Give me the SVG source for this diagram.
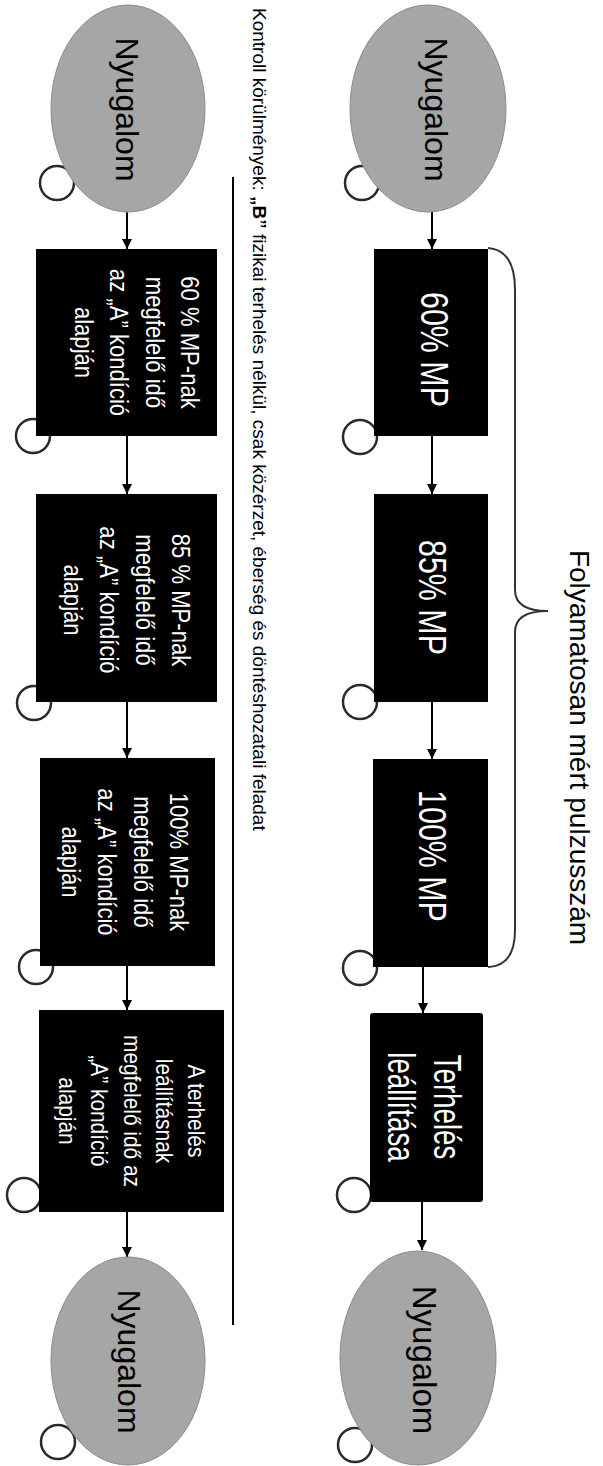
<svg xmlns="http://www.w3.org/2000/svg" width="603" height="1466" viewBox="0 0 603 1466">
<defs>
<style>
.ell{fill:#a6a6a6;stroke:#8a8a8a;stroke-width:1}
.box{fill:#000}
.loop{fill:none;stroke:#2a2a2a;stroke-width:2.5}
.arr{stroke:#000;stroke-width:2;fill:none;marker-end:url(#ah)}
.dk{font-family:"Liberation Sans",Arial,sans-serif;fill:#000}
.wt{font-family:"Liberation Sans",Arial,sans-serif;fill:#fff}
</style>
<marker id="ah" viewBox="0 0 10 10" refX="10" refY="5" markerWidth="5" markerHeight="5" orient="auto" markerUnits="strokeWidth">
<path d="M0,0 L10,5 L0,10 z" fill="#000"/>
</marker>
</defs>
<rect width="603" height="1466" fill="#fff"/>
<g id="connectors">
<circle class="loop" cx="57" cy="183" r="17"/>
<circle class="loop" cx="362" cy="183" r="17"/>
<circle class="loop" cx="33" cy="436" r="17"/>
<circle class="loop" cx="360" cy="437" r="17"/>
<circle class="loop" cx="34" cy="703" r="17"/>
<circle class="loop" cx="360" cy="702" r="17"/>
<circle class="loop" cx="36" cy="967" r="17"/>
<circle class="loop" cx="360" cy="968" r="17"/>
<circle class="loop" cx="24" cy="1195" r="17"/>
<circle class="loop" cx="354" cy="1195" r="17"/>
<circle class="loop" cx="58" cy="1442" r="17"/>
<circle class="loop" cx="355" cy="1445" r="17"/>
<line class="arr" x1="127" y1="212" x2="127" y2="249"/>
<line class="arr" x1="127" y1="436" x2="127" y2="494"/>
<line class="arr" x1="127" y1="702" x2="127" y2="758"/>
<line class="arr" x1="127" y1="966" x2="127" y2="1010"/>
<line class="arr" x1="127" y1="1212" x2="127" y2="1257"/>
<line class="arr" x1="432" y1="212" x2="432" y2="249"/>
<line class="arr" x1="432" y1="436" x2="432" y2="494"/>
<line class="arr" x1="432" y1="702" x2="432" y2="759"/>
<line class="arr" x1="423" y1="967" x2="423" y2="1013"/>
<line class="arr" x1="422" y1="1202" x2="422" y2="1250"/>
</g>
<g id="brace">
<path d="M488,248 Q515,250 515,290 L515,590 Q515,611 548,611 Q515,611 515,632 L515,930 Q515,966 488,967" fill="none" stroke="#333" stroke-width="2"/>
</g>
<g id="separator">
<line x1="233" y1="177" x2="233" y2="1325" stroke="#000" stroke-width="2"/>
</g>
<g id="title">
<text class="dk" font-size="28" text-anchor="middle" transform="translate(570,747.5) rotate(90)">Folyamatosan mért pulzusszám</text>
</g>
<g id="control-label">
<text class="dk" font-size="19" transform="translate(253,8) rotate(90)">Kontroll körülmények: <tspan font-weight="bold">„B”</tspan> fizikai terhelés nélkül, csak közérzet, éberség és döntéshozatali feladat</text>
</g>
<g id="rest-top-right">
<ellipse class="ell" cx="428" cy="108.5" rx="78" ry="103.5"/>
<text class="dk" font-size="32" text-anchor="middle" transform="translate(425,109.5) rotate(90)">Nyugalom</text>
</g>
<g id="mp60">
<rect class="box" x="374" y="249" width="114" height="187"/>
<text class="wt" font-size="38" text-anchor="middle" transform="translate(421,349.5) rotate(90) scale(0.8,1)">60% MP</text>
</g>
<g id="mp85">
<rect class="box" x="374" y="494" width="114" height="208"/>
<text class="wt" font-size="38" text-anchor="middle" transform="translate(419,597.5) rotate(90) scale(0.8,1)">85% MP</text>
</g>
<g id="mp100">
<rect class="box" x="373" y="759" width="115" height="208"/>
<text class="wt" font-size="38" text-anchor="middle" transform="translate(419,856) rotate(90) scale(0.8,1)">100% MP</text>
</g>
<g id="stop">
<rect class="box" x="370" y="1013" width="113" height="189" rx="3"/>
<text class="wt" font-size="38" text-anchor="middle" transform="translate(434,1107) rotate(90) scale(0.73,1)"><tspan x="0" y="0">Terhelés</tspan><tspan x="0" dy="46">leállítása</tspan></text>
</g>
<g id="rest-bottom-right">
<ellipse class="ell" cx="418" cy="1358" rx="78" ry="107"/>
<text class="dk" font-size="33" text-anchor="middle" transform="translate(413,1360) rotate(90)">Nyugalom</text>
</g>
<g id="rest-top-left">
<ellipse class="ell" cx="128" cy="108.5" rx="77" ry="103.5"/>
<text class="dk" font-size="32" text-anchor="middle" transform="translate(116,109.5) rotate(90)">Nyugalom</text>
</g>
<g id="ctrl60">
<rect class="box" x="36" y="249" width="181" height="187"/>
<text class="wt" font-size="26" text-anchor="middle" transform="translate(181,342.5) rotate(90) scale(0.85,1)"><tspan x="0" y="0">60 % MP-nak</tspan><tspan x="0" dy="35.5">megfelelő idő</tspan><tspan x="0" dy="35.5">az „A” kondíció</tspan><tspan x="0" dy="35.5">alapján</tspan></text>
</g>
<g id="ctrl85">
<rect class="box" x="36" y="494" width="181" height="208"/>
<text class="wt" font-size="26" text-anchor="middle" transform="translate(172,600) rotate(90) scale(0.85,1)"><tspan x="0" y="0">85 % MP-nak</tspan><tspan x="0" dy="36">megfelelő idő</tspan><tspan x="0" dy="36">az „A” kondíció</tspan><tspan x="0" dy="36">alapján</tspan></text>
</g>
<g id="ctrl100">
<rect class="box" x="40" y="758" width="175" height="208"/>
<text class="wt" font-size="26" text-anchor="middle" transform="translate(170,862) rotate(90) scale(0.85,1)"><tspan x="0" y="0">100% MP-nak</tspan><tspan x="0" dy="36">megfelelő idő</tspan><tspan x="0" dy="36">az „A” kondíció</tspan><tspan x="0" dy="36">alapján</tspan></text>
</g>
<g id="ctrlstop">
<rect class="box" x="39" y="1010" width="185" height="202"/>
<text class="wt" font-size="24" text-anchor="middle" transform="translate(188,1111) rotate(90) scale(0.87,1)"><tspan x="0" y="0">A terhelés</tspan><tspan x="0" dy="32.2">leállításnak</tspan><tspan x="0" dy="32.2">megfelelő idő az</tspan><tspan x="0" dy="32.2">„A” kondíció</tspan><tspan x="0" dy="32.2">alapján</tspan></text>
</g>
<g id="rest-bottom-left">
<ellipse class="ell" cx="128" cy="1361" rx="77" ry="104"/>
<text class="dk" font-size="32" text-anchor="middle" transform="translate(118,1361.5) rotate(90)">Nyugalom</text>
</g>
</svg>
